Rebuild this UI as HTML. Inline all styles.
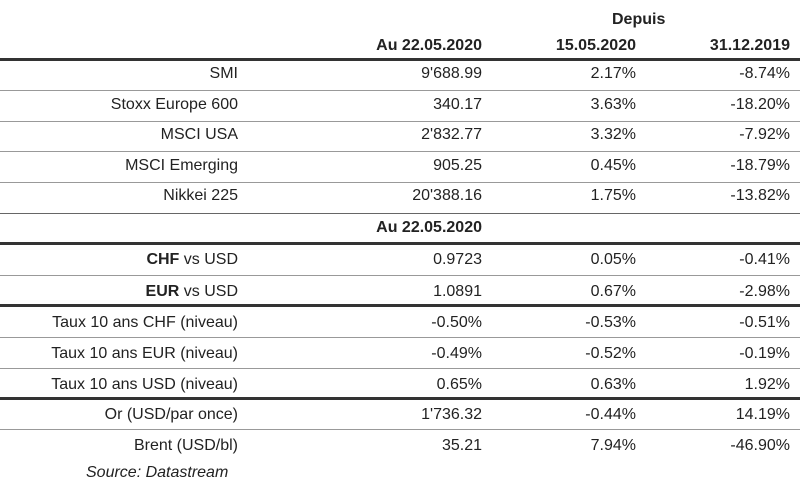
<!DOCTYPE html><html><head><style>
body{margin:0;width:800px;height:486px;background:#fff;position:relative;overflow:hidden;font-family:"Liberation Sans",sans-serif;color:#222;font-size:16px}
.t{position:absolute;white-space:nowrap;line-height:20px}
.r{text-align:right}
.k{position:absolute;left:0;width:800px;height:3px;background:#333}
.n{position:absolute;left:0;width:800px;height:1px;background:#999}
b{font-weight:bold}
</style></head><body>
<div class="t" style="left:612px;top:10px;font-weight:bold">Depuis</div>
<div class="t r" style="right:318px;top:36px;font-weight:bold">Au 22.05.2020</div>
<div class="t r" style="right:164px;top:36px;font-weight:bold">15.05.2020</div>
<div class="t r" style="right:10px;top:36px;font-weight:bold">31.12.2019</div>
<div class="k" style="top:58px"></div>
<div class="n" style="top:90px"></div><div class="n" style="top:121px"></div><div class="n" style="top:151px"></div><div class="n" style="top:182px"></div><div class="n" style="top:213px;background:#666"></div>
<div class="k" style="top:242px"></div>
<div class="n" style="top:275px"></div>
<div class="k" style="top:304px"></div>
<div class="n" style="top:337px"></div><div class="n" style="top:368px"></div>
<div class="k" style="top:397px"></div>
<div class="n" style="top:429px"></div>
<div id="rows"></div>
<div class="t r" style="right:318px;top:218px;font-weight:bold">Au 22.05.2020</div>
<div class="t" style="left:86px;top:463px;font-style:italic">Source: Datastream</div>
<script>
var d=[[64,"SMI","9'688.99","2.17%","-8.74%"],[95,"Stoxx Europe 600","340.17","3.63%","-18.20%"],[125,"MSCI USA","2'832.77","3.32%","-7.92%"],[156,"MSCI Emerging","905.25","0.45%","-18.79%"],[186,"Nikkei 225","20'388.16","1.75%","-13.82%"],[250,"<b>CHF</b> vs USD","0.9723","0.05%","-0.41%"],[282,"<b>EUR</b> vs USD","1.0891","0.67%","-2.98%"],[313,"Taux 10 ans CHF (niveau)","-0.50%","-0.53%","-0.51%"],[344,"Taux 10 ans EUR (niveau)","-0.49%","-0.52%","-0.19%"],[375,"Taux 10 ans USD (niveau)","0.65%","0.63%","1.92%"],[405,"Or (USD/par once)","1'736.32","-0.44%","14.19%"],[436,"Brent (USD/bl)","35.21","7.94%","-46.90%"]];
var h="";d.forEach(function(r){var R=[562,318,164,10];for(var i=1;i<5;i++)h+='<div class="t r" style="right:'+R[i-1]+'px;top:'+r[0]+'px">'+r[i]+'</div>';});
document.getElementById("rows").innerHTML=h;
</script>
</body></html>
